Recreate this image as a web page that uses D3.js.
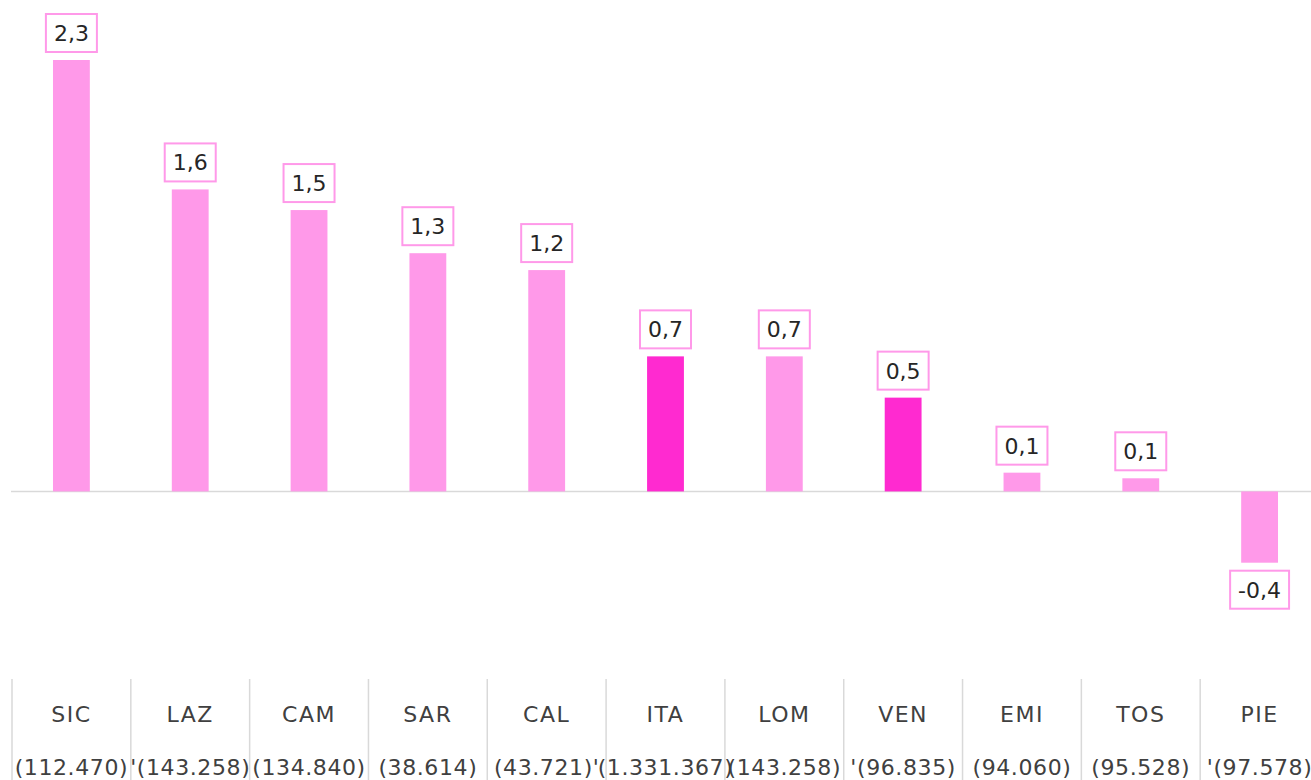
<!DOCTYPE html>
<html>
<head>
<meta charset="utf-8">
<script src="https://cdn.jsdelivr.net/npm/d3@7"></script>
<style>
  body { margin: 0; background: #fff; }
  svg { display: block; }
</style>
</head>
<body>
<script>
const svgW = 1311;
const svgH = 780;

// data
const regions = ['SIC', 'LAZ', 'CAM', 'SAR', 'CAL', 'ITA', 'LOM', 'VEN', 'EMI', 'TOS', 'PIE'];
const counts = ['(112.470)', "'(143.258)", '(134.840)', '(38.614)', "(43.721)'", "(1.331.367)", '(143.258)', "'(96.835)", '(94.060)', '(95.528)', "'(97.578)"];
const values = [2.3, 1.61, 1.5, 1.27, 1.18, 0.72, 0.72, 0.5, 0.1, 0.07, -0.38];
const highlighted = ['ITA', 'VEN'];

const data = regions.map((r, i) => ({ region: r, count: counts[i], value: values[i] }));

const lightPink = '#ff99e9';
const darkPink = '#ff2ad0';
const gridGray = '#d9d9d9';
const textColor = '#404040';
const font = "'DejaVu Sans', sans-serif";

const svg = d3.select('body')
  .append('svg')
  .attr('width', svgW)
  .attr('height', svgH);

// x scales: one for the category cells, one for the bars
const xCell = d3.scaleBand()
  .domain(regions)
  .range([12, 1319]);

const xBar = d3.scaleBand()
  .domain(regions)
  .range([12, 1319])
  .paddingInner(0.69)
  .paddingOuter(0.345);

// y scale
const yScale = d3.scaleLinear()
  .domain([-1, 2.3])
  .range([679, 60]);

// comma decimals, plain hyphen for negatives
const fmt = v => d3.format('.1f')(v).replace('.', ',').replace('\u2212', '-');

// zero line
svg.append('line')
  .attr('x1', 11)
  .attr('x2', svgW)
  .attr('y1', yScale(0))
  .attr('y2', yScale(0))
  .attr('stroke', gridGray)
  .attr('stroke-width', 1.5);

// bars
svg.selectAll('.bar')
  .data(data)
  .enter()
  .append('rect')
  .attr('class', 'bar')
  .attr('x', d => xBar(d.region))
  .attr('width', xBar.bandwidth())
  .attr('y', d => yScale(Math.max(0, d.value)))
  .attr('height', d => Math.abs(yScale(d.value) - yScale(0)))
  .attr('fill', d => highlighted.includes(d.region) ? darkPink : lightPink);

// value labels in boxes
const labels = svg.selectAll('.lbl')
  .data(data)
  .enter()
  .append('g')
  .attr('class', 'lbl');

labels.each(function(d) {
  const g = d3.select(this);
  const cx = xBar(d.region) + xBar.bandwidth() / 2;
  const boxH = 38;
  const gap = 8;
  const boxY = d.value >= 0 ? yScale(d.value) - gap - boxH : yScale(d.value) + gap;
  const t = g.append('text')
    .attr('x', cx)
    .attr('y', boxY + boxH / 2)
    .attr('dy', '0.36em')
    .attr('text-anchor', 'middle')
    .attr('font-family', font)
    .attr('font-size', 22)
    .attr('fill', '#262626')
    .text(fmt(d.value));
  const w = t.node().getComputedTextLength() + 16;
  g.insert('rect', 'text')
    .attr('x', cx - w / 2)
    .attr('y', boxY)
    .attr('width', w)
    .attr('height', boxH)
    .attr('fill', '#fff')
    .attr('stroke', lightPink)
    .attr('stroke-width', 2);
});

// category separators
svg.selectAll('.sep')
  .data(regions)
  .enter()
  .append('line')
  .attr('class', 'sep')
  .attr('x1', d => xCell(d))
  .attr('x2', d => xCell(d))
  .attr('y1', yScale(-1))
  .attr('y2', svgH)
  .attr('stroke', gridGray)
  .attr('stroke-width', 1.5);

// category labels
const cats = svg.selectAll('.cat')
  .data(data)
  .enter()
  .append('text')
  .attr('class', 'cat')
  .attr('text-anchor', 'middle')
  .attr('font-family', font)
  .attr('font-size', 22)
  .attr('fill', textColor);

cats.append('tspan')
  .attr('x', d => xCell(d.region) + xCell.bandwidth() / 2)
  .attr('y', 722)
  .attr('letter-spacing', 1.5)
  .text(d => d.region);

cats.append('tspan')
  .attr('x', d => xCell(d.region) + xCell.bandwidth() / 2)
  .attr('y', 775)
  .attr('letter-spacing', 0.6)
  .text(d => d.count);
</script>
</body>
</html>
